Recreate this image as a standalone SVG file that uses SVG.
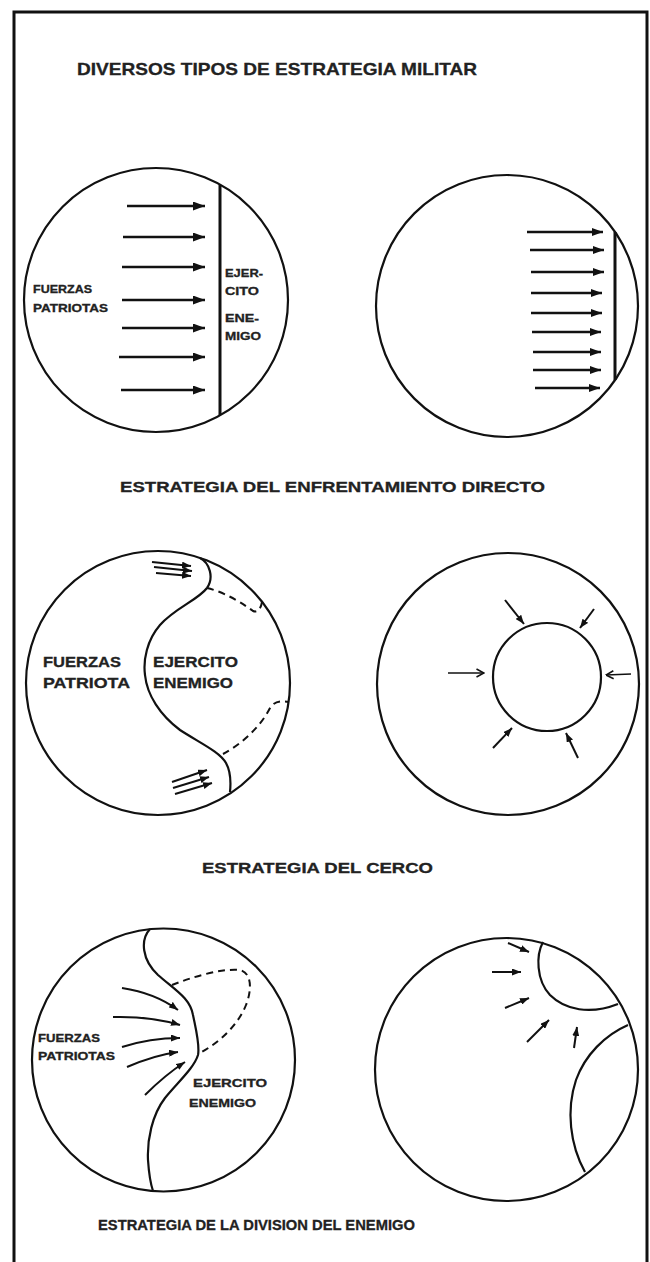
<svg xmlns="http://www.w3.org/2000/svg" width="650" height="1262" viewBox="0 0 650 1262">
<defs>
<style>
.c{fill:none;stroke:#111;stroke-width:2.2}
.ln{fill:none;stroke:#111;stroke-width:3}
.a1{fill:none;stroke:#111;stroke-width:2.6;marker-end:url(#ahL)}
.a2{fill:none;stroke:#111;stroke-width:2.4;marker-end:url(#ahM)}
.as{fill:none;stroke:#111;stroke-width:2;marker-end:url(#ahS)}
.ao{fill:none;stroke:#111;stroke-width:1.6;marker-end:url(#ahO)}
.d{fill:none;stroke:#111;stroke-width:2;stroke-dasharray:7,5}
.t{font-family:"Liberation Sans",Arial,sans-serif;font-weight:bold;fill:#222;stroke:#222;stroke-width:0.3}
.h{font-size:15px}
</style>
<marker id="ahL" viewBox="0 0 12 9" refX="12" refY="4.5" markerWidth="12" markerHeight="9" markerUnits="userSpaceOnUse" orient="auto"><path d="M0,0 L12,4.5 L0,9 z" fill="#111"/></marker>
<marker id="ahM" viewBox="0 0 11 8" refX="11" refY="4" markerWidth="11" markerHeight="8" markerUnits="userSpaceOnUse" orient="auto"><path d="M0,0 L11,4 L0,8 z" fill="#111"/></marker>
<marker id="ahS" viewBox="0 0 9 7" refX="9" refY="3.5" markerWidth="9" markerHeight="7" markerUnits="userSpaceOnUse" orient="auto"><path d="M0,0 L9,3.5 L0,7 z" fill="#111"/></marker>
<marker id="ahO" viewBox="0 0 9 10" refX="8.5" refY="5" markerWidth="9" markerHeight="10" markerUnits="userSpaceOnUse" orient="auto"><path d="M1,1 L8.5,5 L1,9" fill="none" stroke="#111" stroke-width="1.6"/></marker>
</defs>
<rect width="650" height="1262" fill="#fff"/>
<g id="frame">
<path d="M14,1262 L14,12 L647,12 L647,1262" fill="none" stroke="#111" stroke-width="3"/>
</g>
<g id="title">
<text class="t" x="77" y="75" font-size="17" textLength="400" lengthAdjust="spacingAndGlyphs">DIVERSOS TIPOS DE ESTRATEGIA MILITAR</text>
</g>

<!-- Row 1 -->
<g id="direct-left">
<circle class="c" cx="156" cy="300" r="132"/>
<line class="ln" x1="220" y1="185" x2="220" y2="415"/>
<text class="t" x="33" y="293" font-size="11" textLength="59" lengthAdjust="spacingAndGlyphs">FUERZAS</text>
<text class="t" x="33" y="312" font-size="11" textLength="75" lengthAdjust="spacingAndGlyphs">PATRIOTAS</text>
<text class="t" x="225" y="277" font-size="11" textLength="38" lengthAdjust="spacingAndGlyphs">EJER-</text>
<text class="t" x="225" y="295" font-size="11" textLength="34" lengthAdjust="spacingAndGlyphs">CITO</text>
<text class="t" x="225" y="322" font-size="11" textLength="34" lengthAdjust="spacingAndGlyphs">ENE-</text>
<text class="t" x="225" y="340" font-size="11" textLength="36" lengthAdjust="spacingAndGlyphs">MIGO</text>
</g>
<g id="direct-right">
<circle class="c" cx="507" cy="306" r="131"/>
<line class="ln" x1="615" y1="232" x2="615" y2="380"/>
</g>
<g id="connectors-row1">
<line class="a1" x1="127" y1="206" x2="205" y2="206"/>
<line class="a1" x1="123" y1="237" x2="205" y2="237"/>
<line class="a1" x1="122" y1="267" x2="205" y2="267"/>
<line class="a1" x1="122" y1="300" x2="205" y2="300"/>
<line class="a1" x1="122" y1="328" x2="205" y2="328"/>
<line class="a1" x1="119" y1="357" x2="205" y2="357"/>
<line class="a1" x1="121" y1="390" x2="205" y2="390"/>
<line class="a2" x1="527" y1="232" x2="603" y2="232"/>
<line class="a2" x1="530" y1="250" x2="604" y2="250"/>
<line class="a2" x1="531" y1="272" x2="604" y2="272"/>
<line class="a2" x1="531" y1="293" x2="602" y2="293"/>
<line class="a2" x1="531" y1="313" x2="602" y2="313"/>
<line class="a2" x1="532" y1="332" x2="601" y2="332"/>
<line class="a2" x1="533" y1="352" x2="601" y2="352"/>
<line class="a2" x1="533" y1="370" x2="601" y2="370"/>
<line class="a2" x1="535" y1="388" x2="600" y2="388"/>
</g>
<g id="label-1">
<text class="t h" x="120" y="492" textLength="425" lengthAdjust="spacingAndGlyphs">ESTRATEGIA DEL ENFRENTAMIENTO DIRECTO</text>
</g>

<!-- Row 2 -->
<g id="cerco-left">
<circle class="c" cx="158" cy="683" r="132"/>
<path class="c" d="M200,558 C210,563 214,578 207,588 C198,600 175,608 160,625 C147,640 143,660 145,675 C147,695 160,715 180,730 C200,743 220,752 226,763 C231,772 231,782 230,792"/>
<path class="d" d="M207,588 C225,592 245,605 253,611 C258,613 261,608 262,602"/>
<path class="d" d="M223,754 C240,745 260,728 270,708 C275,700 283,701 289,702"/>
<text class="t" x="43" y="667" font-size="15" textLength="78" lengthAdjust="spacingAndGlyphs">FUERZAS</text>
<text class="t" x="43" y="688" font-size="15" textLength="87" lengthAdjust="spacingAndGlyphs">PATRIOTA</text>
<text class="t" x="153" y="667" font-size="15" textLength="85" lengthAdjust="spacingAndGlyphs">EJERCITO</text>
<text class="t" x="153" y="688" font-size="15" textLength="80" lengthAdjust="spacingAndGlyphs">ENEMIGO</text>
</g>
<g id="cerco-right">
<circle class="c" cx="508" cy="684" r="131"/>
<circle class="c" cx="547" cy="677" r="54"/>
</g>
<g id="connectors-row2">
<line class="as" x1="152" y1="562" x2="191" y2="566"/>
<line class="as" x1="154" y1="567" x2="192" y2="571"/>
<line class="as" x1="156" y1="573" x2="191" y2="576"/>
<line class="as" x1="172" y1="782" x2="207" y2="770"/>
<line class="as" x1="173" y1="788" x2="209" y2="777"/>
<line class="as" x1="175" y1="794" x2="212" y2="783"/>
<line class="ao" x1="448" y1="673" x2="484" y2="673"/>
<line class="ao" x1="631" y1="674" x2="606" y2="675"/>
<line class="as" x1="505" y1="600" x2="524" y2="624"/>
<line class="as" x1="594" y1="609" x2="580" y2="628"/>
<line class="as" x1="493" y1="748" x2="512" y2="728"/>
<line class="as" x1="578" y1="758" x2="566" y2="733"/>
</g>
<g id="label-2">
<text class="t h" x="202" y="873" textLength="231" lengthAdjust="spacingAndGlyphs">ESTRATEGIA DEL CERCO</text>
</g>

<!-- Row 3 -->
<g id="division-left">
<circle class="c" cx="163.5" cy="1060" r="131.5"/>
<path class="c" d="M150,929 C140,940 142,960 158,975 C175,990 190,998 193,1015 C196,1030 200,1045 198,1055 C194,1068 178,1082 165,1098 C152,1115 147,1140 148,1160 C149,1175 151,1185 153,1191"/>
<path class="d" d="M172,985 C190,978 220,968 240,970 C252,973 252,990 246,1005 C238,1025 220,1042 200,1053"/>
<text class="t" x="38" y="1042" font-size="11" textLength="62" lengthAdjust="spacingAndGlyphs">FUERZAS</text>
<text class="t" x="38" y="1060" font-size="11" textLength="77" lengthAdjust="spacingAndGlyphs">PATRIOTAS</text>
<text class="t" x="193" y="1087" font-size="11" textLength="74" lengthAdjust="spacingAndGlyphs">EJERCITO</text>
<text class="t" x="189" y="1107" font-size="11" textLength="67" lengthAdjust="spacingAndGlyphs">ENEMIGO</text>
</g>
<g id="division-right">
<circle class="c" cx="506.5" cy="1069.5" r="131.5"/>
<path class="c" d="M543,942 C536,955 536,980 550,995 C565,1010 590,1015 618,1004"/>
<path class="c" d="M628,1025 C605,1035 585,1055 576,1080 C566,1110 570,1145 585,1172"/>
</g>
<g id="connectors-row3">
<path class="as" d="M122,988 Q155,993 178,1010"/>
<path class="as" d="M113,1017 Q150,1016 180,1025"/>
<path class="as" d="M122,1047 Q150,1038 180,1038"/>
<path class="as" d="M127,1067 Q155,1055 178,1052"/>
<path class="as" d="M145,1095 Q165,1075 185,1062"/>
<line class="as" x1="508" y1="943" x2="529" y2="952"/>
<line class="as" x1="492" y1="972" x2="521" y2="972"/>
<line class="as" x1="505" y1="1008" x2="529" y2="998"/>
<line class="as" x1="527" y1="1042" x2="549" y2="1020"/>
<line class="as" x1="574" y1="1048" x2="577" y2="1027"/>
</g>
<g id="label-3">
<text class="t h" x="98" y="1230" textLength="317" lengthAdjust="spacingAndGlyphs">ESTRATEGIA DE LA DIVISION DEL ENEMIGO</text>
</g>
</svg>
